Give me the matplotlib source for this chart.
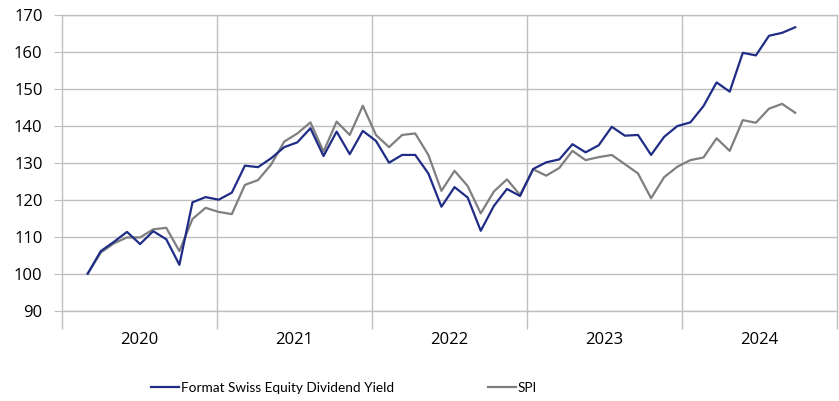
import numpy as np
import matplotlib
matplotlib.use("Agg")
import matplotlib.pyplot as plt
from matplotlib.lines import Line2D

fsedy = [100.0, 106.1, 108.6, 111.3, 108.0, 111.5, 109.3, 102.4, 119.3, 120.7,
         120.0, 121.9, 129.2, 128.8, 131.2, 134.2, 135.5, 139.3, 131.8, 138.4,
         132.3, 138.6, 135.9, 130.0, 132.1, 132.1, 127.1, 118.1, 123.4, 120.6,
         111.6, 118.3, 122.9, 121.0, 128.3, 130.1, 130.9, 135.0, 132.8, 134.7,
         139.7, 137.3, 137.5, 132.1, 137.0, 139.9, 140.9, 145.3, 151.7, 149.2,
         159.7, 159.0, 164.3, 165.1, 166.6]
spi = [100.0, 105.7, 108.2, 109.8, 109.8, 112.0, 112.4, 106.1, 114.8, 117.8,
       116.7, 116.1, 124.0, 125.3, 129.5, 135.7, 137.9, 140.9, 133.0, 141.1,
       137.5, 145.4, 137.5, 134.2, 137.5, 137.9, 132.1, 122.4, 127.8, 123.7,
       116.3, 122.2, 125.5, 121.3, 128.2, 126.5, 128.6, 133.2, 130.7, 131.5,
       132.1, 129.6, 127.1, 120.4, 126.1, 128.9, 130.7, 131.4, 136.6, 133.2,
       141.5, 140.8, 144.6, 145.9, 143.5]
years = ["2020", "2021", "2022", "2023", "2024"]
# year boundaries in units of observation index
year_edges = [-1.96, 9.87, 21.70, 33.53, 45.36, 57.19]

blue = "#1f2d86"
grey = "#7f7f7f"
grid_c = "#bfbfbf"

plt.rcParams['font.family'] = ['Open Sans', 'DejaVu Sans']

fig = plt.figure(figsize=(8.39, 4.01), dpi=100)
ax = fig.add_axes([62 / 839, 1 - 310.7 / 401, 775 / 839, 296 / 401])

x = np.arange(len(fsedy))
ax.plot(x, fsedy, color=blue, lw=1.6, zorder=3)
ax.plot(x, spi, color=grey, lw=1.6, zorder=2)

ax.set_xlim(year_edges[0], year_edges[-1])
ax.set_ylim(90, 170)
ax.set_yticks(range(90, 171, 10))
ax.grid(axis='y', color=grid_c, lw=1)
for e in year_edges[1:-1]:
    ax.axvline(e, color=grid_c, lw=1, zorder=1)

ax.set_xticks(year_edges)
ax.set_xticklabels([])
ax.tick_params(axis='x', which='major', length=13, color=grid_c, width=1)
centers = [(a + b) / 2 for a, b in zip(year_edges[:-1], year_edges[1:])]
ax.set_xticks(centers, minor=True)
ax.set_xticklabels(years, minor=True, fontsize=12)
ax.tick_params(axis='x', which='minor', length=0, pad=15)
ax.tick_params(axis='y', length=6, color=grid_c, labelsize=12, pad=8)

for s in ax.spines.values():
    s.set_color(grid_c)
    s.set_linewidth(1)

handles = [Line2D([], [], color=blue, lw=1.6),
           Line2D([], [], color=grey, lw=1.6)]
fig.legend(handles, ["Format Swiss Equity Dividend Yield", "SPI"],
           loc='center', bbox_to_anchor=(0.41, 1 - 388 / 401), ncol=2,
           frameon=False, prop={'family': ['Lato', 'Open Sans'], 'size': 9.8},
           handlelength=2.06, handletextpad=0.15, columnspacing=6.9)

fig.savefig("out.png", dpi=100)
